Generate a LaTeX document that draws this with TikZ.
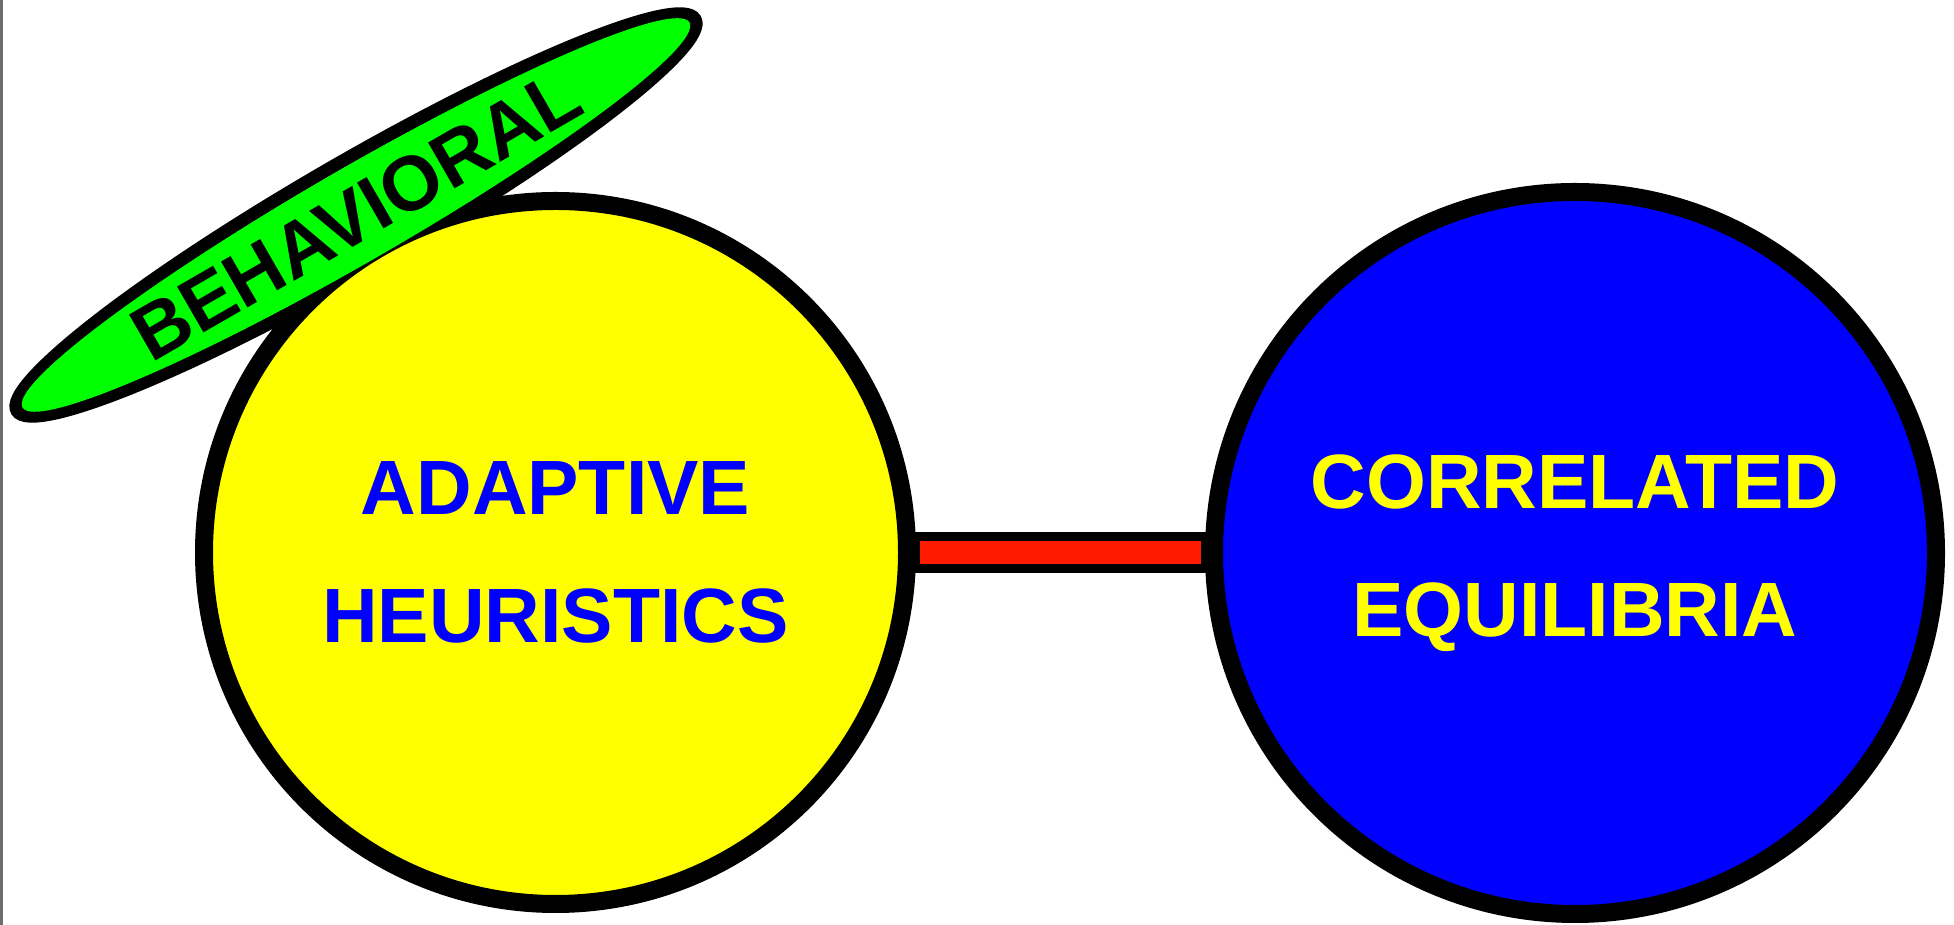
\documentclass[tikz,border=0pt]{standalone}
\usepackage{fontspec}
\setmainfont{Liberation Sans}
\usepackage{tikz}
\usetikzlibrary{shapes.geometric, backgrounds}
\definecolor{hyellow}{HTML}{FFFF00}
\definecolor{hblue}{HTML}{0000FF}
\definecolor{hgreen}{HTML}{00FF00}
\definecolor{hred}{HTML}{FF1A00}
\definecolor{hgray}{HTML}{6E6E6E}
\tikzset{
  bigfont/.style={font=\fontsize{77}{128}\selectfont\bfseries},
  bignode/.style={circle,draw=black,line width=18pt,inner sep=0pt,outer sep=0pt,align=center,bigfont},
  heurnode/.style={bignode,fill=hyellow,text=hblue,minimum size=703pt},
  eqnode/.style={bignode,fill=hblue,text=hyellow,minimum size=722pt},
  behavnode/.style={ellipse,fill=hgreen,inner sep=0pt,minimum width=770pt,minimum height=94pt,rotate=30,bigfont},
  behavrim/.style={behavnode,fill=none,draw=black,line width=13pt,minimum width=783pt,minimum height=107pt},
  linkbar/.style={draw=black,fill=hred,line width=8.5pt},
}

\begin{document}
\begin{tikzpicture}[x=1pt,y=1pt]
  \useasboundingbox (0,0) rectangle (1954,925);
  \draw[hgray,line width=2.5pt] (1.25,0) -- (1.25,925);
  \node[heurnode] (nAH) at (555.5,372.5) {ADAPTIVE\\HEURISTICS};
  \node[eqnode] (nCE) at (1575,372) {CORRELATED\\EQUILIBRIA};
  \draw[linkbar] ([xshift=9pt,yshift=15.75pt]nAH.east) rectangle ([xshift=-9pt,yshift=-15.75pt]nCE.west);
  \node[behavnode] (nB) at (356,710) {BEHAVIORAL};
  % rim of the ellipse sits under the yellow circle
  \begin{scope}[on background layer]
    \node[behavrim] (nBrim) at (nB.center) {};
  \end{scope}
\end{tikzpicture}
\end{document}
